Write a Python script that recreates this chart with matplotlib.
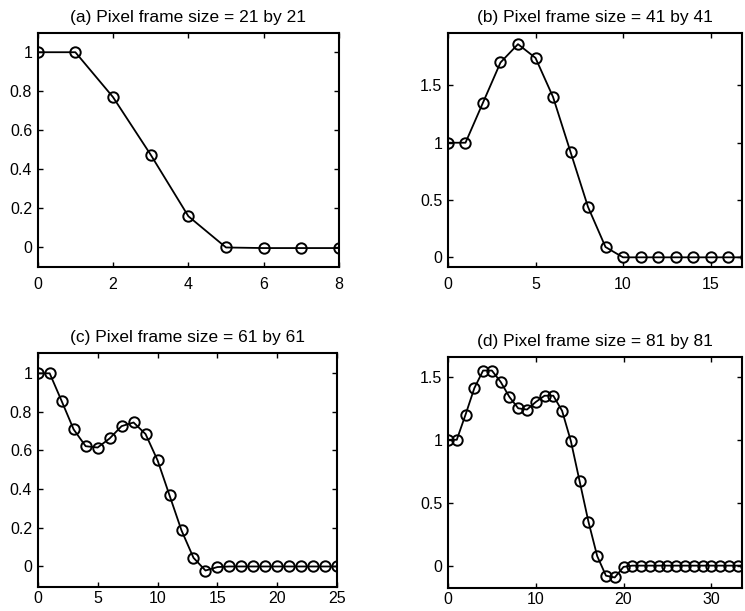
import matplotlib
matplotlib.use("Agg")
import matplotlib.pyplot as plt
from matplotlib.ticker import FuncFormatter
import numpy as np

# ---- data ----
titles = ["(a) Pixel frame size = 21 by 21",
          "(b) Pixel frame size = 41 by 41",
          "(c) Pixel frame size = 61 by 61",
          "(d) Pixel frame size = 81 by 81"]

vals_a = [1.0, 1.0, 0.77, 0.475, 0.16, 0.0, -0.003, -0.003, -0.003]
vals_b = [1.0, 1.0, 1.35, 1.70, 1.86, 1.74, 1.40, 0.92, 0.44, 0.09,
          0.0, 0.0, 0.0, 0.0, 0.0, 0.0, 0.0, 0.0]
vals_c = [1.0, 1.0, 0.856, 0.709, 0.622, 0.615, 0.662, 0.726, 0.745, 0.685,
          0.549, 0.367, 0.185, 0.043, -0.023, -0.005, -0.002, -0.002, -0.002,
          -0.002, -0.002, -0.002, -0.002, -0.002, -0.002, -0.002]
vals_d = [1.0, 1.0, 1.20, 1.41, 1.55, 1.55, 1.46, 1.34, 1.25, 1.24,
          1.30, 1.35, 1.35, 1.23, 0.99, 0.67, 0.35, 0.076, -0.08, -0.094,
          -0.01, 0.0, 0.0, 0.0, 0.0, 0.0, 0.0, 0.0, 0.0, 0.0,
          0.0, 0.0, 0.0, 0.0, 0.0]

xticks_list = [[0, 2, 4, 6, 8], [0, 5, 10, 15], [0, 5, 10, 15, 20, 25], [0, 10, 20, 30]]
yticks_list = [[0, 0.2, 0.4, 0.6, 0.8, 1], [0, 0.5, 1, 1.5],
               [0, 0.2, 0.4, 0.6, 0.8, 1], [0, 0.5, 1, 1.5]]
xlims = [(0, 8), (0, 16.8), (0, 25), (0, 33.5)]
ylims = [(-0.1, 1.1), (-0.087, 1.96), (-0.11, 1.107), (-0.18, 1.66)]

# ---- layout ----
W, H = 745, 611
fig = plt.figure(figsize=(W / 100, H / 100), dpi=100)
plt.rcParams['font.family'] = ['Liberation Sans', 'DejaVu Sans']

# pixel boxes: left, right, top, bottom
boxes = [(37.7, 339, 32.7, 267), (448, 742, 32.7, 267.3),
         (37.7, 337.3, 352.7, 587.3), (448, 742, 356.7, 588.3)]
xpads = [7, 7, 3, 3]

def fmt(v, pos):
    return "%g" % v

series = [vals_a, vals_b, vals_c, vals_d]
for i in range(4):
    l, r, t, b = boxes[i]
    ax = fig.add_axes([l / W, (H - b) / H, (r - l) / W, (b - t) / H])
    y = series[i]
    x = np.arange(len(y))
    ax.plot(x, y, color='black', linewidth=1.3, marker='o', markersize=7.5,
            markerfacecolor='none', markeredgecolor='black', markeredgewidth=1.4,
            clip_on=True)
    ax.set_xlim(*xlims[i])
    ax.set_ylim(*ylims[i])
    ax.set_xticks(xticks_list[i])
    ax.set_yticks(yticks_list[i])
    ax.yaxis.set_major_formatter(FuncFormatter(fmt))
    ax.xaxis.set_major_formatter(FuncFormatter(fmt))
    ax.tick_params(direction='in', length=3.5, width=1, top=True, right=True,
                   labelsize=11.5, colors='black')
    ax.tick_params(axis='x', pad=xpads[i])
    ax.tick_params(axis='y', pad=4)
    for sp in ax.spines.values():
        sp.set_linewidth(1.5)
        sp.set_color('black')
    ax.set_title(titles[i], fontsize=12.5, pad=8)

fig.savefig("out.png", dpi=100)
